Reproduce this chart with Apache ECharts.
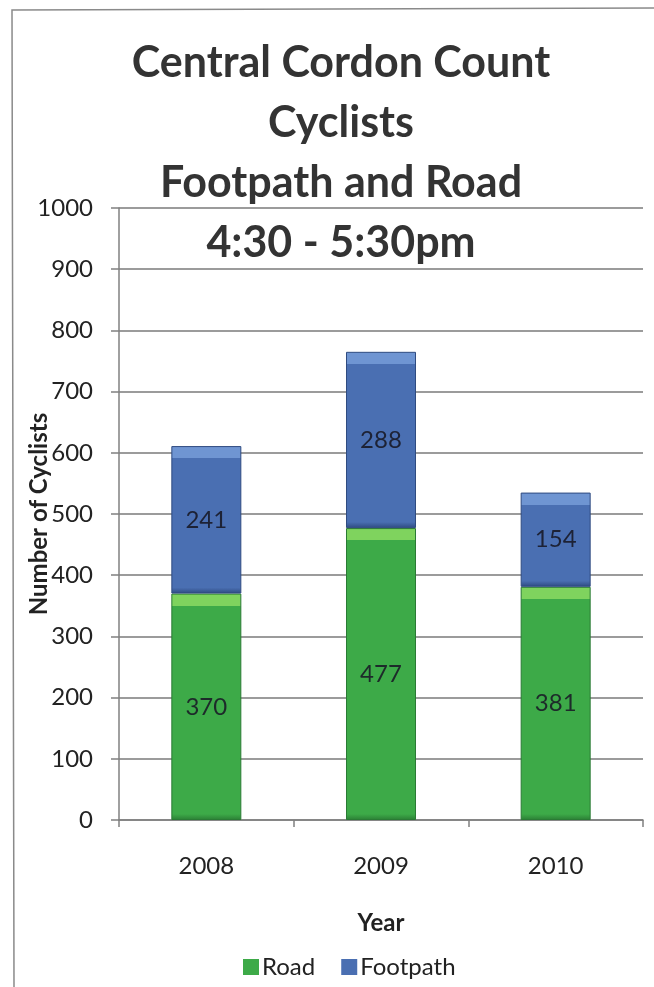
<!DOCTYPE html>
<html>
<head>
<meta charset="utf-8">
<script src="https://cdn.jsdelivr.net/npm/echarts@6/dist/echarts.min.js"></script>
<style>
html,body{margin:0;padding:0;background:#fff;}
#chart{width:654px;height:987px;}
</style>
</head>
<body>
<div id="chart"></div>
<script>
const titleLines = ['Central Cordon Count', 'Cyclists', 'Footpath and Road', '4:30 - 5:30pm'];
const years = ['2008', '2009', '2010'];
const roadValues = [370, 477, 381];
const footpathValues = [241, 288, 154];
const yTicks = [0, 100, 200, 300, 400, 500, 600, 700, 800, 900, 1000];

const FONT = 'Lato, "Open Sans", sans-serif';
const pxPerUnit = 612 / 1000;

function bevel(value, light, base, dark) {
  const h = value * pxPerUnit;
  const t = Math.min(0.4, 12 / h);
  const b = Math.min(0.4, 6 / h);
  return {
    type: 'linear', x: 0, y: 0, x2: 0, y2: 1,
    colorStops: [
      {offset: 0, color: light},
      {offset: t, color: light},
      {offset: t + 0.001, color: base},
      {offset: 1 - b, color: base},
      {offset: 1, color: dark}
    ]
  };
}

const roadData = roadValues.map(v => ({
  value: v,
  itemStyle: {color: bevel(v, '#7fd35e', '#3daa48', '#2b7e35'), borderColor: '#2a7a34', borderWidth: 1}
}));
const footData = footpathValues.map(v => ({
  value: v,
  itemStyle: {color: bevel(v, '#6f95d2', '#4a6fb2', '#2e4a80'), borderColor: '#2f4b80', borderWidth: 1}
}));

const chart = echarts.init(document.getElementById('chart'));
chart.setOption({
  backgroundColor: '#ffffff',
  animation: false,
  textStyle: {fontFamily: FONT},
  title: {
    text: titleLines.join('\n'),
    left: 336,
    textAlign: 'center',
    top: 28,
    textStyle: {fontFamily: FONT, fontSize: 43, fontWeight: 'bold', color: '#333333', lineHeight: 60}
  },
  graphic: [
    {type: 'polyline', shape: {points: [[14, 987], [12, 10], [654, 8]]}, style: {stroke: '#8a8a8a', lineWidth: 1.5, fill: null}, silent: true}
  ],
  legend: {
    data: [
      {name: 'Road', itemStyle: {color: '#3daa48'}},
      {name: 'Footpath', itemStyle: {color: '#4a6fb2'}}
    ],
    left: 238,
    top: 950,
    itemWidth: 16,
    itemHeight: 16,
    itemGap: 26,
    icon: 'rect',
    textStyle: {fontFamily: FONT, fontSize: 24, color: '#222222', padding: [0, 0, 0, -2]}
  },
  grid: {left: 119, right: 11, top: 208, bottom: 167, containLabel: false},
  xAxis: {
    type: 'category',
    data: years,
    name: 'Year',
    nameLocation: 'middle',
    nameGap: 91,
    nameMoveOverlap: false,
    nameTextStyle: {fontFamily: FONT, fontSize: 24, fontWeight: 'bold', color: '#222222'},
    axisLine: {show: true, lineStyle: {color: '#808080', width: 1.5}},
    axisTick: {show: true, length: 7, lineStyle: {color: '#808080', width: 1.5}},
    axisLabel: {fontFamily: FONT, fontSize: 24, color: '#222222', margin: 34}
  },
  yAxis: {
    type: 'value',
    min: 0,
    max: 1000,
    interval: 100,
    name: 'Number of Cyclists',
    nameLocation: 'middle',
    nameRotate: 90,
    nameGap: 68,
    nameMoveOverlap: false,
    nameTextStyle: {fontFamily: FONT, fontSize: 24, fontWeight: 'bold', color: '#222222'},
    axisLine: {show: true, lineStyle: {color: '#808080', width: 1.5}},
    axisTick: {show: true, length: 8, lineStyle: {color: '#808080', width: 1.5}},
    splitLine: {show: true, lineStyle: {color: '#7a7a7a', width: 1.5}},
    axisLabel: {
      fontFamily: FONT, fontSize: 24, color: '#222222', margin: 26,
      formatter: v => (yTicks.indexOf(v) >= 0 ? String(v) : '')
    }
  },
  series: [
    {
      name: 'Road', type: 'bar', stack: 'total', data: roadData,
      barWidth: 70,
      label: {show: true, position: 'inside', fontFamily: FONT, fontSize: 24, color: '#1d2a2a'}
    },
    {
      name: 'Footpath', type: 'bar', stack: 'total', data: footData,
      barWidth: 70,
      label: {show: true, position: 'inside', fontFamily: FONT, fontSize: 24, color: '#1d2235'}
    }
  ]
});
</script>
</body>
</html>
